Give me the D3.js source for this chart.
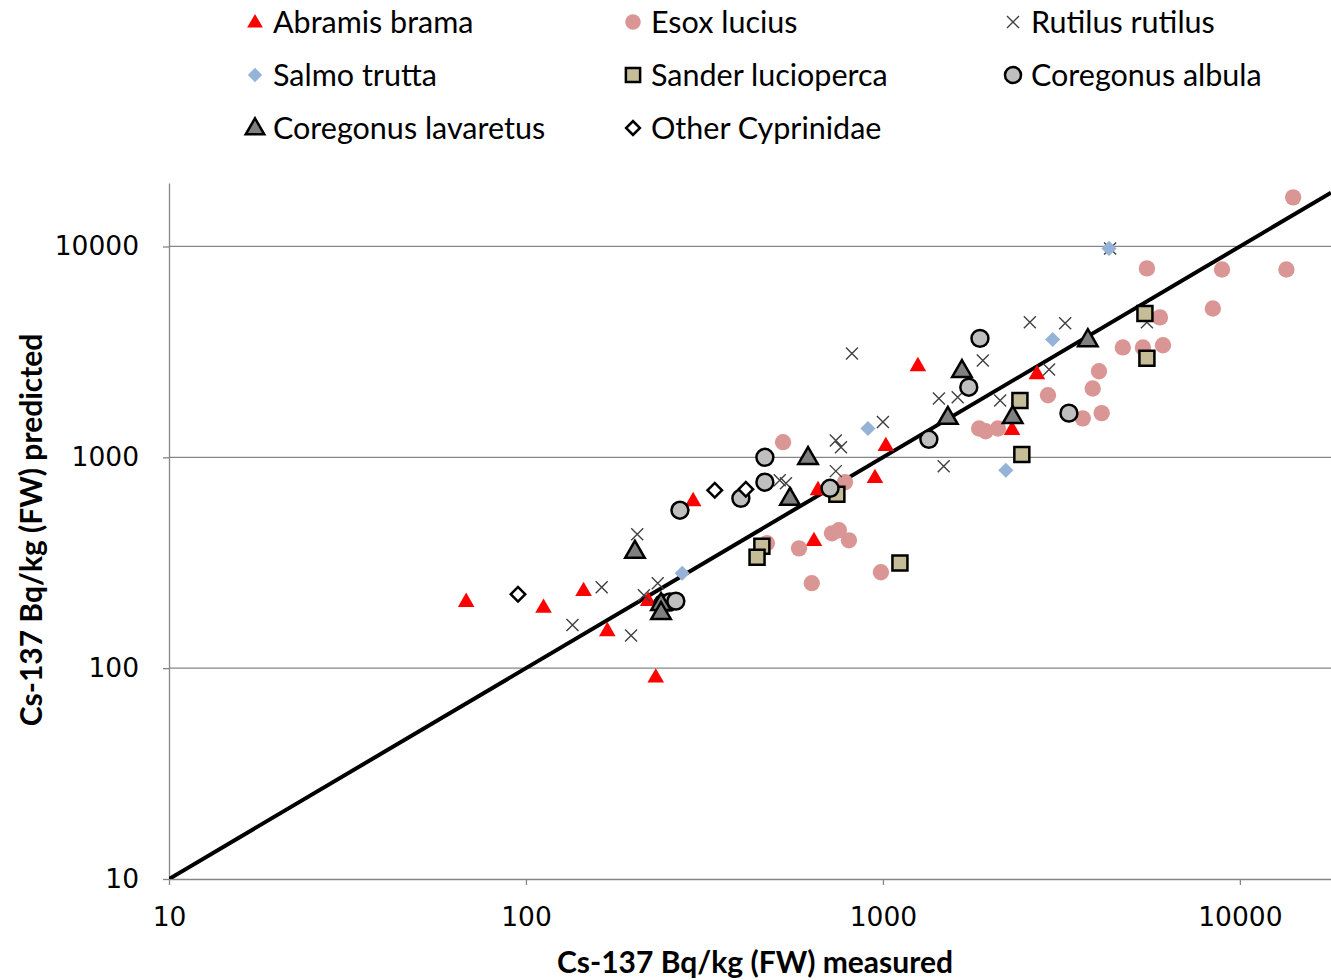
<!DOCTYPE html>
<html>
<head>
<meta charset="utf-8">
<script src="https://cdn.jsdelivr.net/npm/d3@7"></script>
<style>
  body { margin: 0; background: #fff; }
  svg { display: block; }
</style>
</head>
<body>
<svg></svg>
<script>
  // [measured, predicted] Bq/kg
  const abramisBrama = [
    [68, 208], [112, 195], [145, 234], [169, 151], [220, 210], [231, 91],
    [294, 625], [641, 404], [658, 705], [950, 804], [1019, 1140],
    [1253, 2730], [2300, 1360], [2700, 2500]
  ];
  const esoxLucius = [
    [525, 1180], [473, 391], [582, 370], [632, 253], [720, 436], [753, 451],
    [803, 404], [783, 762], [987, 285], [1860, 1370], [1940, 1330],
    [2100, 1370], [2900, 1970], [3630, 1530], [3870, 2120], [4030, 2560],
    [4100, 1620], [4700, 3320], [5350, 3320], [6090, 3400], [5970, 4610],
    [5490, 7870], [8400, 5080], [8910, 7780], [13500, 7780], [14100, 17100]
  ];
  const rutilusRutilus = [
    [135, 160], [163, 242], [197, 143], [205, 432], [214, 222], [234, 253],
    [514, 778], [535, 753], [738, 1200], [763, 1115], [738, 860],
    [819, 3110], [1000, 1470], [1435, 1900], [1620, 1925], [1480, 906],
    [1905, 2880], [2130, 1860], [2580, 4370], [3240, 4320], [2920, 2610],
    [4330, 9790], [5490, 4370]
  ];
  const salmoTrutta = [
    [274, 282], [908, 1370], [2210, 868], [2990, 3620], [4300, 9790]
  ];
  const sanderLucioperca = [
    [458, 379], [444, 336], [743, 668], [1116, 315], [2420, 1860],
    [2450, 1030], [5420, 4810], [5490, 2950]
  ];
  const coregonusAlbula = [
    [270, 561], [400, 639], [467, 762], [467, 1000], [711, 713],
    [1345, 1217], [1740, 2150], [1870, 3665], [3320, 1620],
    [242, 203], [253, 206], [263, 208]
  ];
  const coregonusLavaretus = [
    [202, 359], [239, 203], [239, 184], [549, 640], [617, 1000],
    [1520, 1550], [1665, 2585], [2310, 1565], [3750, 3620]
  ];
  const otherCyprinidae = [
    [95, 224], [338, 698], [413, 705]
  ];

  const xTicks = [10, 100, 1000, 10000];
  const yTicks = [10, 100, 1000, 10000];
  const oneToOne = [10, 18000];

  const xTitle = "Cs-137 Bq/kg (FW) measured";
  const yTitle = "Cs-137 Bq/kg (FW) predicted";

  const width = 1331;
  const height = 980;

  const svg = d3.select("svg")
    .attr("width", width)
    .attr("height", height);

  const x = d3.scaleLog().domain([10, 18000]).range([169, 1331]);
  const y = d3.scaleLog().domain([10, 20000]).range([879, 183]);

  const axisColor = "#868686";

  // marker shapes
  const tri = d3.symbol().type(d3.symbolTriangle);
  const circ = d3.symbol().type(d3.symbolCircle);
  const sq = d3.symbol().type(d3.symbolSquare);
  const xPath = s => `M${-s},${-s}L${s},${s}M${-s},${s}L${s},${-s}`;

  const series = [
    { name: "Abramis brama", data: abramisBrama,
      draw: (g, k) => g.append("path").attr("d", tri.size(120 * k)()).attr("transform", "translate(0,1)").attr("fill", "#ff0000") },
    { name: "Esox lucius", data: esoxLucius,
      draw: (g, k) => g.append("path").attr("d", circ.size(210 * k)()).attr("fill", "#d99694") },
    { name: "Rutilus rutilus", data: rutilusRutilus,
      draw: (g, k) => g.append("path").attr("d", xPath(6)).attr("fill", "none").attr("stroke", "#404040").attr("stroke-width", 1.4) },
    { name: "Salmo trutta", data: salmoTrutta,
      draw: (g, k) => g.append("path").attr("d", sq.size(115 * k)()).attr("transform", "rotate(45)").attr("fill", "#95b3d7") },
    { name: "Sander lucioperca", data: sanderLucioperca,
      draw: (g, k) => g.append("path").attr("d", sq.size(225 * k)()).attr("fill", "#c4bd97").attr("stroke", "#000").attr("stroke-width", 2.5) },
    { name: "Coregonus albula", data: coregonusAlbula,
      draw: (g, k) => g.append("path").attr("d", circ.size(225 * k)()).attr("fill", "#bfbfbf").attr("stroke", "#000").attr("stroke-width", 2.5) },
    { name: "Coregonus lavaretus", data: coregonusLavaretus,
      draw: (g, k) => g.append("path").attr("d", tri.size(165 * k)()).attr("transform", "translate(0,1)").attr("fill", "#808080").attr("stroke", "#000").attr("stroke-width", 2.5) },
    { name: "Other Cyprinidae", data: otherCyprinidae,
      draw: (g, k) => g.append("path").attr("d", sq.size(105 * k)()).attr("transform", "rotate(45)").attr("fill", "#fff").attr("stroke", "#000").attr("stroke-width", 2.5) }
  ];

  // gridlines
  svg.append("g")
    .selectAll("line")
    .data(yTicks.filter(d => d > 10))
    .enter().append("line")
    .attr("x1", x.range()[0]).attr("x2", x.range()[1])
    .attr("y1", d => y(d)).attr("y2", d => y(d))
    .attr("stroke", axisColor)
    .attr("stroke-width", 1.3);

  // axes
  const xAxis = svg.append("g")
    .attr("transform", `translate(0,${y.range()[0]})`)
    .call(d3.axisBottom(x).tickValues(xTicks).tickFormat(d3.format("d")).tickSize(6).tickSizeOuter(0));
  const yAxis = svg.append("g")
    .attr("transform", `translate(${x.range()[0]},0)`)
    .call(d3.axisLeft(y).tickValues(yTicks).tickFormat(d3.format("d")).tickSize(6).tickSizeOuter(0));

  [xAxis, yAxis].forEach(a => {
    a.select(".domain").attr("stroke", axisColor).attr("stroke-width", 1.3);
    a.selectAll(".tick line").attr("stroke", axisColor).attr("stroke-width", 1.3);
    a.selectAll("text")
      .attr("fill", "#000")
      .style("font-family", "DejaVu Sans")
      .style("font-size", "26.5px");
  });
  xAxis.selectAll("text").attr("y", 28);
  yAxis.selectAll("text").attr("x", -30);

  // 1:1 line
  svg.append("clipPath").attr("id", "plot")
    .append("rect")
    .attr("x", x.range()[0]).attr("y", y.range()[1])
    .attr("width", x.range()[1] - x.range()[0])
    .attr("height", y.range()[0] - y.range()[1]);

  svg.append("line")
    .attr("clip-path", "url(#plot)")
    .attr("x1", x(oneToOne[0])).attr("y1", y(oneToOne[0]))
    .attr("x2", x(oneToOne[1])).attr("y2", y(oneToOne[1]))
    .attr("stroke", "#000")
    .attr("stroke-width", 4);

  // points
  series.forEach(s => {
    svg.append("g")
      .selectAll("g")
      .data(s.data)
      .enter().append("g")
      .attr("transform", d => `translate(${x(d[0])},${y(d[1])})`)
      .each(function () { s.draw(d3.select(this), 1); });
  });

  // legend
  const legend = svg.append("g");
  const colX = [255, 633, 1013];
  const rowY = [22, 75, 128];
  series.forEach((s, i) => {
    const item = legend.append("g")
      .attr("transform", `translate(${colX[i % 3]},${rowY[Math.floor(i / 3)]})`);
    s.draw(item.append("g"), 0.9);
    item.append("text")
      .attr("x", 18)
      .attr("dy", "0.35em")
      .style("font-family", "Lato")
      .style("font-size", "30.5px")
      .text(s.name);
  });

  // axis titles
  svg.append("text")
    .attr("x", 755)
    .attr("y", 973)
    .attr("text-anchor", "middle")
    .style("font-family", "Lato")
    .style("font-weight", "bold")
    .style("font-size", "30px")
    .text(xTitle);

  svg.append("text")
    .attr("transform", "translate(42,530) rotate(-90)")
    .attr("text-anchor", "middle")
    .style("font-family", "Lato")
    .style("font-weight", "bold")
    .style("font-size", "30px")
    .text(yTitle);
</script>
</body>
</html>
